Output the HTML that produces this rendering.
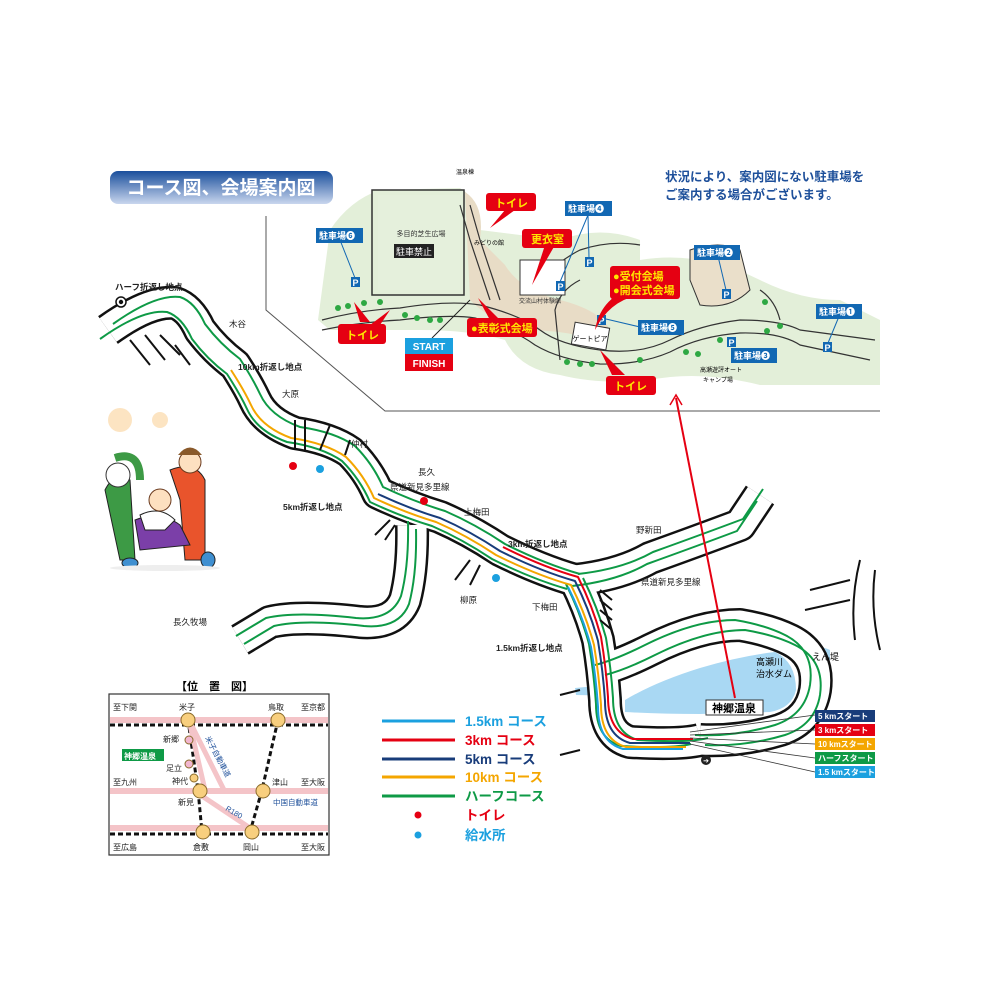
<!DOCTYPE html>
<html><head><meta charset="utf-8"><style>
html,body{margin:0;padding:0;background:#fff}
svg{display:block}
text{font-family:"Liberation Sans","Noto Sans CJK JP",sans-serif}
</style></head><body>
<svg width="1000" height="1000" viewBox="0 0 1000 1000" xmlns="http://www.w3.org/2000/svg">
<defs>
<linearGradient id="tg" x1="0" y1="0" x2="0" y2="1"><stop offset="0" stop-color="#1a4f9c"/><stop offset="1" stop-color="#c9d6ee"/></linearGradient>
<path id="T" d="M108 330 Q150 300 175 303 Q190 308 200 330 Q215 350 235 365 Q248 385 255 400 Q265 422 295 433 Q330 438 350 452 Q368 470 378 493 Q410 508 440 517 Q470 530 500 550 Q540 570 575 580"/>
<path id="D" d="M575 580 Q590 610 598 640 Q603 670 605 700 Q605 735 630 742 Q680 745 700 740"/>
<path id="R" d="M575 580 Q620 575 650 558 Q700 540 740 525 L760 495"/>
<path id="B" d="M412 525 Q413 570 405 600 Q395 625 360 622 Q300 615 270 622 L240 640"/>
<path id="L" d="M600 670 Q620 665 650 650 Q700 625 740 625 Q770 630 790 640 Q820 655 815 690 Q810 720 780 730 Q740 742 700 740"/>
</defs>
<rect x="110" y="171" width="223" height="33" rx="8" fill="url(#tg)"/>
<text x="221" y="194" font-size="19" font-weight="bold" fill="#fff" text-anchor="middle">コース図、会場案内図</text>
<text x="665" y="181" font-size="12.5" font-weight="bold" fill="#1d4f9a">状況により、案内図にない駐車場を</text>
<text x="665" y="199" font-size="12.5" font-weight="bold" fill="#1d4f9a">ご案内する場合がございます。</text>

<path d="M266 216 V310 L385 411 H880" fill="none" stroke="#555" stroke-width="1"/>
<path d="M330 230 Q350 200 380 190 L460 188 Q480 200 480 230 L560 240 Q600 225 640 240 L640 260 Q700 250 760 280 Q800 300 840 300 L880 320 L880 385 L760 385 Q700 370 650 380 Q600 385 560 375 Q520 370 505 340 Q470 330 420 330 Q380 330 330 330 L318 320 Z" fill="#e3efd9"/>
<path d="M465 192 Q485 205 480 240 L505 265 Q520 290 560 300 Q600 310 610 330 L600 345 Q580 330 520 330 Q490 320 470 300 Z" fill="#e8dcc6"/>
<path d="M690 250 Q720 240 740 250 L750 290 Q730 310 700 305 L690 280 Z" fill="#eadfca" stroke="#333" stroke-width="1"/>
<rect x="372" y="190" width="92" height="105" fill="#e3efd9" stroke="#333" stroke-width="1.5"/>
<rect x="378" y="195" width="82" height="95" fill="#e5f0dc"/>
<text x="421" y="236" font-size="7" text-anchor="middle" fill="#333">多目的芝生広場</text>
<rect x="394" y="244" width="40" height="14" fill="#222"/>
<text x="414" y="255" font-size="9" fill="#fff" text-anchor="middle">駐車禁止</text>
<g fill="none" stroke="#333" stroke-width="1.2">
<path d="M322 320 Q360 310 400 308 Q450 300 480 305 Q520 315 540 330 Q560 345 600 350 Q640 355 670 340 Q700 325 740 320 Q780 320 800 330 L875 340"/>
<path d="M322 330 Q360 322 400 320 Q450 314 475 318 Q515 330 535 345 Q560 360 600 364 Q640 365 670 352 Q700 336 740 333 Q780 332 800 345 L870 360"/>
<path d="M470 205 L480 240 L500 300"/><path d="M460 205 L470 240 L490 300"/>
<path d="M540 280 Q560 260 580 250 Q610 240 640 245"/>
<path d="M560 360 L555 310 Q560 290 580 280"/>
<path d="M760 290 Q775 300 780 320"/>
</g>
<rect x="520" y="260" width="45" height="35" fill="#fff" stroke="#333"/>
<text x="540" y="303" font-size="6" fill="#333" text-anchor="middle">交流山村体験館</text>
<rect x="573" y="325" width="35" height="22" fill="#fff" stroke="#333" transform="rotate(10 590 336)"/>
<text x="590" y="341" font-size="7" text-anchor="middle">ゲートピア</text>
<text x="456" y="174" font-size="6">温泉棟</text>
<text x="474" y="245" font-size="6">みどりの館</text>
<text x="700" y="372" font-size="6">高瀬遊評オート</text>
<text x="703" y="382" font-size="6">キャンプ場</text>
<g fill="#2ea843">
<circle cx="338" cy="308" r="3"/><circle cx="348" cy="306" r="3"/><circle cx="364" cy="303" r="3"/><circle cx="380" cy="302" r="3"/>
<circle cx="405" cy="315" r="3"/><circle cx="417" cy="318" r="3"/><circle cx="430" cy="320" r="3"/><circle cx="440" cy="320" r="3"/>
<circle cx="567" cy="362" r="3"/><circle cx="580" cy="364" r="3"/><circle cx="592" cy="364" r="3"/><circle cx="640" cy="360" r="3"/>
<circle cx="686" cy="352" r="3"/><circle cx="698" cy="354" r="3"/><circle cx="720" cy="340" r="3"/><circle cx="767" cy="331" r="3"/><circle cx="780" cy="326" r="3"/><circle cx="765" cy="302" r="3"/>
</g>
<g font-size="9" font-weight="bold" fill="#fff" text-anchor="middle">
<rect x="351" y="277" width="9" height="10" fill="#1268b3"/><text x="355.5" y="286">P</text>
<rect x="556" y="281" width="9" height="10" fill="#1268b3"/><text x="560.5" y="290">P</text>
<rect x="585" y="257" width="9" height="10" fill="#1268b3"/><text x="589.5" y="266">P</text>
<rect x="597" y="315" width="9" height="10" fill="#1268b3"/><text x="601.5" y="324">P</text>
<rect x="722" y="289" width="9" height="10" fill="#1268b3"/><text x="726.5" y="298">P</text>
<rect x="727" y="337" width="9" height="10" fill="#1268b3"/><text x="731.5" y="346">P</text>
<rect x="823" y="342" width="9" height="10" fill="#1268b3"/><text x="827.5" y="351">P</text>
</g>
<g stroke="#1268b3" stroke-width="1">
<line x1="340" y1="240" x2="355" y2="278"/><line x1="588" y1="215" x2="560" y2="282"/><line x1="588" y1="215" x2="589" y2="258"/>
<line x1="606" y1="319" x2="640" y2="327"/><line x1="717" y1="252" x2="726" y2="290"/><line x1="735" y1="343" x2="730" y2="345"/><line x1="840" y1="314" x2="828" y2="343"/>
</g>
<g font-size="9" font-weight="bold" fill="#fff">
<rect x="316" y="228" width="47" height="15" fill="#1268b3"/><text x="319" y="239">駐車場❻</text>
<rect x="565" y="201" width="47" height="15" fill="#1268b3"/><text x="568" y="212">駐車場❹</text>
<rect x="694" y="245" width="46" height="15" fill="#1268b3"/><text x="697" y="256">駐車場❷</text>
<rect x="638" y="320" width="46" height="15" fill="#1268b3"/><text x="641" y="331">駐車場❺</text>
<rect x="731" y="348" width="46" height="15" fill="#1268b3"/><text x="734" y="359">駐車場❸</text>
<rect x="816" y="304" width="46" height="15" fill="#1268b3"/><text x="819" y="315">駐車場❶</text>
</g>
<g fill="#e50012">
<path d="M354 302 L360 322 L370 322 Z"/><path d="M390 310 L370 325 L380 325 Z"/>
<path d="M505 210 L490 228 L515 210 Z"/><path d="M545 245 L532 285 L555 245 Z"/>
<path d="M478 298 L490 320 L500 320 Z"/><path d="M630 288 Q600 300 595 330 Q610 300 640 295 Z"/>
<path d="M600 350 L612 375 L625 375 Z"/>
<rect x="338" y="324" width="48" height="20" rx="3"/><rect x="486" y="193" width="50" height="18" rx="3"/>
<rect x="522" y="229" width="50" height="19" rx="3"/><rect x="467" y="318" width="70" height="19" rx="3"/>
<rect x="610" y="266" width="70" height="33" rx="3"/><rect x="606" y="376" width="50" height="19" rx="3"/>
</g>
<g font-size="11" font-weight="bold" fill="#ffe600">
<text x="346" y="339">トイレ</text><text x="495" y="207">トイレ</text><text x="531" y="243">更衣室</text>
<text x="471" y="332">●表彰式会場</text><text x="613" y="280">●受付会場</text><text x="613" y="294">●開会式会場</text><text x="614" y="390">トイレ</text>
</g>
<line x1="470" y1="300" x2="432" y2="338" stroke="#222" stroke-width="1"/>
<rect x="405" y="338" width="48" height="16" fill="#1ba0df"/><text x="429" y="350" font-size="10" font-weight="bold" fill="#fff" text-anchor="middle">START</text>
<rect x="405" y="354" width="48" height="17" fill="#e50012"/><text x="429" y="367" font-size="10" font-weight="bold" fill="#fff" text-anchor="middle">FINISH</text>

<path d="M575 688 Q600 685 620 690 L622 698 Q600 695 576 695 Z" fill="#a9d8f3"/>
<path d="M810 650 Q820 645 830 650 L830 660 L815 660 Z" fill="#a9d8f3"/>

<g fill="none" stroke-linejoin="round">
<g stroke="#111" stroke-width="34"><use href="#T"/><use href="#D"/><use href="#R"/><use href="#B"/><use href="#L"/></g>
<g stroke="#fff" stroke-width="29"><use href="#T"/><use href="#D"/><use href="#R"/><use href="#B"/><use href="#L"/></g>
</g>
<path d="M625 700 Q655 682 700 668 Q740 656 775 652 Q796 662 796 690 Q792 708 770 712 L700 714 Q660 714 625 712 Z" fill="#a9d8f3"/>
<g fill="none" stroke-linejoin="round">
<g stroke="#0e9a46" stroke-width="2">
<use href="#T" transform="translate(5,-6)"/><use href="#T" transform="translate(-8,9)"/>
<use href="#D" transform="translate(8,-2)"/><use href="#D" transform="translate(-9,4)"/>
<use href="#R" transform="translate(3,-6)"/><use href="#R" transform="translate(-3,6)"/>
<use href="#B" transform="translate(-4,-4)"/><use href="#B" transform="translate(4,4)"/>
<use href="#L" transform="translate(-5,-5)"/><use href="#L" transform="translate(5,5)"/>
</g>
<path d="M235 365 Q248 385 255 400 Q265 422 295 433 Q330 438 350 452 Q368 470 378 493 Q410 508 440 517 Q470 530 500 550 Q540 570 575 580 Q590 610 598 640 Q603 670 605 700 Q605 735 630 742 L690 742" stroke="#f4a600" stroke-width="2" transform="translate(-4,5)"/>
<path d="M378 493 Q410 508 440 517 Q470 530 500 550 Q540 570 575 580 Q590 610 598 640 Q603 670 605 700 Q605 735 630 742 L690 742" stroke="#183c7a" stroke-width="2" transform="translate(0,1)"/>
<path d="M500 550 Q540 570 575 580 Q590 610 598 640 Q603 670 605 700 Q605 735 630 742 L690 742" stroke="#e50012" stroke-width="2" transform="translate(3,-3)"/>
<path d="M575 580 Q590 610 598 640 Q603 670 605 700 Q605 735 630 742 L690 742" stroke="#1ba0df" stroke-width="2" transform="translate(-7,7)"/>
</g>
<g stroke="#111" stroke-width="2" fill="none">
<path d="M130 340 L150 365 M145 335 L165 360 M160 335 L180 355 M175 345 L190 365"/>
<path d="M295 420 V450 M305 420 V450 M330 425 L320 450 M350 440 L345 455"/>
<path d="M390 520 L375 535 M395 525 L385 540"/><path d="M470 560 L455 580 M480 565 L470 585"/>
<path d="M860 560 Q850 600 855 640 M875 570 Q870 610 880 650"/>
<path d="M810 590 L850 580 M805 610 L850 600"/>
<path d="M580 690 L560 695 M580 750 L560 755"/>
<path d="M600 590 L612 600 M600 600 L612 610 M600 610 L612 620 M600 620 L612 630"/>
</g>
<text x="756" y="665" font-size="9">高瀬川</text><text x="756" y="677" font-size="9">治水ダム</text>
<text x="812" y="660" font-size="9">えん堤</text>
<line x1="676" y1="398" x2="735" y2="698" stroke="#e50012" stroke-width="2"/>
<path d="M670 405 L676 395 L682 405" stroke="#e50012" fill="none" stroke-width="1.5"/>
<rect x="706" y="700" width="57" height="15" fill="#fff" stroke="#333"/>
<text x="734" y="712" font-size="11" font-weight="bold" text-anchor="middle">神郷温泉</text>
<circle cx="706" cy="760" r="5" fill="#222"/><text x="706" y="763" font-size="7" fill="#fff" text-anchor="middle">➔</text>
<g stroke="#333" stroke-width="0.8"><line x1="690" y1="732" x2="815" y2="715"/><line x1="690" y1="735" x2="815" y2="730"/><line x1="690" y1="738" x2="815" y2="744"/><line x1="690" y1="741" x2="815" y2="758"/><line x1="690" y1="744" x2="815" y2="772"/></g>
<g font-size="8" font-weight="bold" fill="#fff">
<rect x="815" y="710" width="60" height="12" fill="#183c7a"/><text x="818" y="719">5 kmスタート</text>
<rect x="815" y="724" width="60" height="12" fill="#e50012"/><text x="818" y="733">3 kmスタート</text>
<rect x="815" y="738" width="60" height="12" fill="#f4a600"/><text x="818" y="747">10 kmスタート</text>
<rect x="815" y="752" width="60" height="12" fill="#0e9a46"/><text x="818" y="761">ハーフスタート</text>
<rect x="815" y="766" width="60" height="12" fill="#1ba0df"/><text x="818" y="775">1.5 kmスタート</text>
</g>
<g font-size="8.5" fill="#222">
<text x="115" y="290" font-weight="bold">ハーフ折返し地点</text>
<text x="238" y="370" font-weight="bold">10km折返し地点</text>
<text x="283" y="510" font-weight="bold">5km折返し地点</text>
<text x="508" y="547" font-weight="bold">3km折返し地点</text>
<text x="496" y="651" font-weight="bold">1.5km折返し地点</text>
<text x="229" y="327">木谷</text><text x="282" y="397">大原</text><text x="351" y="447">仲村</text>
<text x="418" y="475">長久</text><text x="390" y="490">県道新見多里線</text><text x="464" y="515">上梅田</text>
<text x="636" y="533">野新田</text><text x="641" y="585">県道新見多里線</text><text x="460" y="603">柳原</text><text x="532" y="610">下梅田</text>
<text x="173" y="625">長久牧場</text>
</g>
<circle cx="121" cy="302" r="5" fill="#fff" stroke="#111" stroke-width="1.5"/><circle cx="121" cy="302" r="2.2" fill="#111"/>
<circle cx="293" cy="466" r="4" fill="#e50012"/><circle cx="320" cy="469" r="4" fill="#1ba0df"/>
<circle cx="424" cy="501" r="4" fill="#e50012"/><circle cx="496" cy="578" r="4" fill="#1ba0df"/>
<g>
<circle cx="120" cy="420" r="12" fill="#fbd9a8" opacity="0.7"/><circle cx="160" cy="420" r="8" fill="#fbd9a8" opacity="0.7"/>
<path d="M105 490 Q115 470 130 480 L135 560 L120 560 Z" fill="#3d9a45" stroke="#222"/>
<circle cx="118" cy="475" r="12" fill="#fff" stroke="#333"/>
<path d="M115 458 Q140 450 140 480" stroke="#3d9a45" stroke-width="8" fill="none"/>
<path d="M170 470 Q195 460 205 480 L205 560 L185 560 L180 500 Z" fill="#e9542c" stroke="#222"/>
<circle cx="190" cy="462" r="11" fill="#fde0c0" stroke="#6b3b1f"/>
<path d="M178 455 Q190 440 202 455" fill="#8a5a2b"/>
<path d="M135 520 Q160 510 180 525 L190 545 L140 550 Z" fill="#7b3fa8" stroke="#222"/>
<path d="M140 515 Q160 505 175 520 L165 530 L145 530 Z" fill="#fff" stroke="#222"/>
<circle cx="160" cy="500" r="11" fill="#fde0c0" stroke="#6b3b1f"/>
<ellipse cx="208" cy="560" rx="7" ry="8" fill="#3f8fd0" stroke="#222"/><ellipse cx="130" cy="563" rx="8" ry="5" fill="#3f8fd0" stroke="#222"/>
<ellipse cx="165" cy="568" rx="55" ry="3" fill="#eee"/>
</g>

<text x="176" y="690" font-size="11" font-weight="bold">【位　置　図】</text>
<rect x="109" y="694" width="220" height="161" fill="#fff" stroke="#333" stroke-width="1.2"/>
<g fill="#f4c4c8"><rect x="110" y="717" width="218" height="6"/><rect x="110" y="788" width="218" height="6"/><rect x="110" y="825" width="218" height="6"/></g>
<g stroke="#111" stroke-width="3" stroke-dasharray="5,3" fill="none"><line x1="110" y1="725" x2="328" y2="725"/><line x1="110" y1="834" x2="328" y2="834"/>
<path d="M188 720 L198 790 L202 832 M278 720 L262 790 L250 832"/></g>
<g stroke="#f4c4c8" stroke-width="5" fill="none"><path d="M190 722 L224 790 M202 796 L250 828 M190 725 L205 790"/></g>
<g fill="#f8cf7e" stroke="#8a6b2a"><circle cx="188" cy="720" r="7"/><circle cx="278" cy="720" r="7"/><circle cx="200" cy="791" r="7"/><circle cx="263" cy="791" r="7"/><circle cx="203" cy="832" r="7"/><circle cx="252" cy="832" r="7"/><circle cx="194" cy="778" r="4"/></g>
<g fill="#f2b6d0" stroke="#8a6b2a"><circle cx="189" cy="740" r="4"/><circle cx="189" cy="764" r="4"/></g>
<rect x="122" y="749" width="42" height="12" fill="#0e9a46"/><text x="124" y="759" font-size="8" font-weight="bold" fill="#fff">神郷温泉</text>
<g font-size="8" fill="#222">
<text x="113" y="710">至下関</text><text x="179" y="710">米子</text><text x="268" y="710">鳥取</text><text x="301" y="710">至京都</text>
<text x="163" y="742">新郷</text><text x="166" y="771">足立</text><text x="172" y="784">神代</text>
<text x="113" y="785">至九州</text><text x="272" y="785">津山</text><text x="301" y="785">至大阪</text>
<text x="178" y="805">新見</text><text x="113" y="850">至広島</text><text x="193" y="850">倉敷</text><text x="243" y="850">岡山</text><text x="301" y="850">至大阪</text>
</g>
<text x="273" y="805" font-size="7.5" fill="#1d4f9a">中国自動車道</text>
<text x="225" y="810" font-size="7.5" fill="#1d4f9a" transform="rotate(30 225 810)">R180</text>
<text x="205" y="738" font-size="7.5" fill="#1d4f9a" transform="rotate(62 205 738)">米子自動車道</text>
<g stroke-width="3"><line x1="382" y1="721" x2="455" y2="721" stroke="#1ba0df"/><line x1="382" y1="740" x2="455" y2="740" stroke="#e50012"/><line x1="382" y1="759" x2="455" y2="759" stroke="#183c7a"/><line x1="382" y1="777" x2="455" y2="777" stroke="#f4a600"/><line x1="382" y1="796" x2="455" y2="796" stroke="#0e9a46"/></g>
<g font-size="13.5" font-weight="bold">
<text x="465" y="726" fill="#1ba0df">1.5km コース</text><text x="465" y="745" fill="#e50012">3km コース</text><text x="465" y="764" fill="#183c7a">5km コース</text>
<text x="465" y="782" fill="#f4a600">10km コース</text><text x="465" y="801" fill="#0e9a46">ハーフコース</text>
<text x="465" y="820" fill="#e50012">トイレ</text><text x="465" y="840" fill="#1ba0df">給水所</text>
</g>
<circle cx="418" cy="815" r="3.5" fill="#e50012"/><circle cx="418" cy="835" r="3.5" fill="#1ba0df"/>
</svg>
</body></html>
